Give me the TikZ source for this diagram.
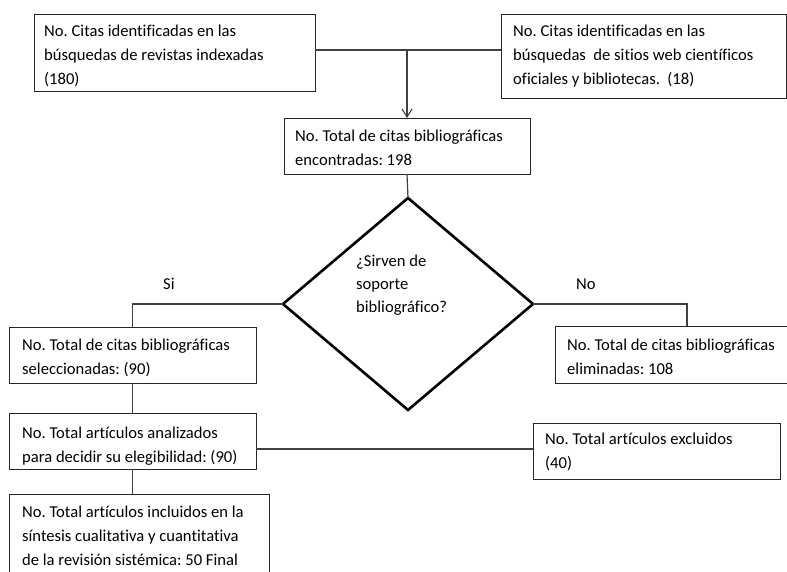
\documentclass[tikz,border=0pt]{standalone}
\usepackage{fontspec}
\setmainfont{Carlito}[Ligatures=NoCommon]
\usetikzlibrary{arrows.meta,shapes.geometric}
\frenchspacing
\begin{document}
\begin{tikzpicture}[x=1pt,y=-1pt,
  box/.style={draw=black!85, line width=0.9pt, inner sep=0pt, outer sep=0pt, anchor=north west},
  txt/.style={inner sep=0pt, anchor=north west, align=left, font=\fontsize{16.6}{24}\selectfont},
  conn/.style={draw=black!75, line width=1.2pt},
  decision/.style={diamond, draw=black, line width=2.6pt, inner sep=0pt, outer sep=0pt, minimum width=250pt, minimum height=212pt}
]
\useasboundingbox (0,0) rectangle (787,572);
% boxes
\node[box, minimum width=281pt, minimum height=77pt] (A) at (34,14) {};
\node[box, minimum width=285pt, minimum height=84pt] (B) at (501,14) {};
\node[box, minimum width=246pt, minimum height=56pt] (C) at (284,118) {};
\node[decision] (Q) at (408,304) {};
\node[box, minimum width=247pt, minimum height=56pt] (D) at (9,327) {};
\node[box, minimum width=245pt, minimum height=57pt] (E) at (555,326) {};
\node[box, minimum width=247pt, minimum height=56pt] (F) at (9,413) {};
\node[box, minimum width=247pt, minimum height=56pt] (G) at (533,423) {};
\node[box, minimum width=260pt, minimum height=96pt] (H) at (9,494) {};
% texts
\node[txt] (At) at (44,19.2) {\strut No. Citas identificadas en las\\\strut búsquedas de revistas indexadas\\\strut (180)};
\node[txt] (Bt) at (513,19.2) {\strut No. Citas identificadas en las\\\strut búsquedas\ \ de sitios web científicos\\\strut oficiales y bibliotecas.\ \ (18)};
\node[txt] (Ct) at (295,124.2) {\strut No. Total de citas bibliográficas\\\strut encontradas: 198};
\node[txt, font=\fontsize{16.6}{23}\selectfont] (Qt) at (356,249.9) {\strut ¿Sirven de\\\strut soporte\\\strut bibliográfico?};
\node[txt] (Dt) at (22,333.2) {\strut No. Total de citas bibliográficas\\\strut seleccionadas: (90)};
\node[txt] (Et) at (567,333.2) {\strut No. Total de citas bibliográficas\\\strut eliminadas: 108};
\node[txt] (Ft) at (22,421.2) {\strut No. Total artículos analizados\\\strut para decidir su elegibilidad: (90)};
\node[txt] (Gt) at (545,427.2) {\strut No. Total artículos excluidos\\\strut (40)};
\node[txt] (Ht) at (22,500.2) {\strut No. Total artículos incluidos en la\\\strut síntesis cualitativa y cuantitativa\\\strut de la revisión sistémica: 50 Final};
\node[inner sep=0pt, anchor=base west, font=\fontsize{16.6}{24}\selectfont] (Si) at (163,289) {Si};
\node[inner sep=0pt, anchor=base west, font=\fontsize{16.6}{24}\selectfont] (No) at (576,289) {No};
% connectors
\coordinate (J) at (407,50);
\coordinate (Ek) at (687,326);
\coordinate (K) at (400,449);
\draw[conn] (A.east |- J) -- (B.west |- J);
\draw[conn, -{Straight Barb[length=8pt,width=10pt,line width=1.1pt]}] (J) -- (C.north);
\draw[conn] (C.south) -- (Q.north);
\draw[conn] (Q.west) -| (D.north);
\draw[conn] (Q.east) -| (Ek);
\draw[conn] (D.south) -- (F.north);
\draw[conn] (F.east |- K) -- (G.west |- K);
\draw[conn] (F.south) -- (F.south |- H.north);
\end{tikzpicture}
\end{document}
